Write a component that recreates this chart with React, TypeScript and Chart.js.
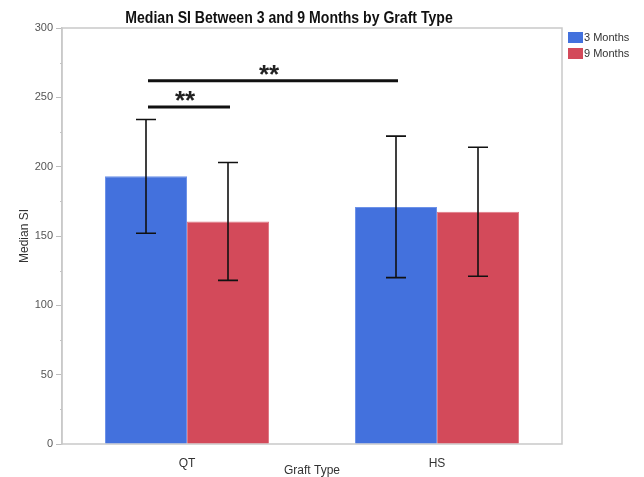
import React, { useEffect, useRef } from 'react';
import { Chart, registerables } from 'chart.js';

Chart.register(...registerables);

const categories = ['QT', 'HS'];
const seriesNames = ['3 Months', '9 Months'];
const seriesColors = ['#4371dd', '#d34a5a'];
const seriesEdge = ['#6d92e8', '#e07985'];
const months3 = [193, 171];
const months9 = [160.5, 167.5];
const months3Low = [152, 120];
const months3High = [234, 222];
const months9Low = [118, 121];
const months9High = [203, 214];
const yMin = 0;
const yMax = 300;
const yStep = 25;
const yLabelStep = 50;
// significance brackets: [datasetIndex, categoryIndex] endpoints
const sigFrom = [[0, 0], [0, 0]];
const sigTo = [[1, 0], [0, 1]];
const sigLevel = [243, 262];
const sigLabel = ['**', '**'];

const titleText = 'Median SI Between 3 and 9 Months by Graft Type';
const xTitle = 'Graft Type';
const yTitle = 'Median SI';

const NARROW = '"Liberation Sans Narrow", "Arial Narrow", "Liberation Sans", Arial, sans-serif';

export default function App() {
  const ref = useRef<HTMLCanvasElement | null>(null);

  useEffect(() => {
    if (!ref.current) return;
    const lows = [months3Low, months9Low];
    const highs = [months3High, months9High];

    const overlay = {
      id: 'overlay',
      beforeDatasetsDraw(chart: any) {
        const { ctx, chartArea: a } = chart;
        ctx.save();
        ctx.strokeStyle = '#c9c9c9';
        ctx.lineWidth = 1.5;
        ctx.strokeRect(a.left, a.top, a.right - a.left, a.bottom - a.top);
        // minor ticks
        const ys = chart.scales.y;
        ctx.strokeStyle = '#c4c4c4';
        ctx.lineWidth = 1;
        for (let v = yMin; v <= yMax; v += yStep) {
          if (v % yLabelStep !== 0) {
            const py = Math.round(ys.getPixelForValue(v)) + 0.5;
            ctx.beginPath();
            ctx.moveTo(a.left - 2, py);
            ctx.lineTo(a.left, py);
            ctx.stroke();
          }
        }
        ctx.restore();
      },
      afterDatasetsDraw(chart: any) {
        const { ctx, chartArea: a } = chart;
        const ys = chart.scales.y;
        ctx.save();
        // error bars
        ctx.strokeStyle = '#111';
        ctx.lineWidth = 1.6;
        for (let d = 0; d < 2; d++) {
          const meta = chart.getDatasetMeta(d);
          meta.data.forEach((el: any, i: number) => {
            const x = el.x;
            const y1 = ys.getPixelForValue(lows[d][i]);
            const y2 = ys.getPixelForValue(highs[d][i]);
            ctx.beginPath();
            ctx.moveTo(x, y1);
            ctx.lineTo(x, y2);
            ctx.moveTo(x - 10, y1);
            ctx.lineTo(x + 10, y1);
            ctx.moveTo(x - 10, y2);
            ctx.lineTo(x + 10, y2);
            ctx.stroke();
          });
        }
        // significance brackets
        for (let k = 0; k < sigLevel.length; k++) {
          const e1 = chart.getDatasetMeta(sigFrom[k][0]).data[sigFrom[k][1]];
          const e2 = chart.getDatasetMeta(sigTo[k][0]).data[sigTo[k][1]];
          const py = ys.getPixelForValue(sigLevel[k]);
          ctx.strokeStyle = '#111';
          ctx.lineWidth = 3;
          ctx.beginPath();
          ctx.moveTo(e1.x + 2, py);
          ctx.lineTo(e2.x + 2, py);
          ctx.stroke();
          ctx.font = 'bold 26px "Liberation Sans", Arial, sans-serif';
          ctx.fillStyle = '#222';
          const m = ctx.measureText(sigLabel[k]);
          const cx = (e1.x + e2.x) / 2 - 2;
          const cy = py - 11;
          ctx.textAlign = 'center';
          ctx.textBaseline = 'alphabetic';
          ctx.fillText(sigLabel[k], cx, cy + (m.actualBoundingBoxAscent - m.actualBoundingBoxDescent) / 2);
        }
        // title (condensed)
        ctx.fillStyle = '#111';
        ctx.font = 'bold 16px ' + NARROW;
        ctx.textAlign = 'center';
        ctx.textBaseline = 'alphabetic';
        ctx.save();
        ctx.translate(a.left + 227, 23);
        ctx.scale(0.88, 1);
        ctx.fillText(titleText, 0, 0);
        ctx.restore();
        // axis titles
        ctx.fillStyle = '#333';
        ctx.font = '12px ' + NARROW;
        ctx.textBaseline = 'middle';
        ctx.fillText(xTitle, (a.left + a.right) / 2, a.bottom + 27);
        ctx.save();
        ctx.translate(25, (a.top + a.bottom) / 2);
        ctx.rotate(-Math.PI / 2);
        ctx.fillText(yTitle, 0, 0);
        ctx.restore();
        // legend
        ctx.font = '11px ' + NARROW;
        ctx.textAlign = 'left';
        for (let s = 0; s < seriesNames.length; s++) {
          const ly = a.top + 4 + s * 16;
          ctx.fillStyle = seriesColors[s];
          ctx.fillRect(a.right + 6, ly, 15, 11);
          ctx.fillStyle = '#333';
          ctx.fillText(seriesNames[s], a.right + 22, ly + 6);
        }
        ctx.restore();
      },
    };

    const chart = new Chart(ref.current, {
      type: 'bar',
      data: {
        labels: categories,
        datasets: [
          {
            label: seriesNames[0],
            data: months3,
            backgroundColor: seriesColors[0],
            borderColor: seriesEdge[0],
            borderWidth: 1,
            categoryPercentage: 0.656,
            barPercentage: 1,
          },
          {
            label: seriesNames[1],
            data: months9,
            backgroundColor: seriesColors[1],
            borderColor: seriesEdge[1],
            borderWidth: 1,
            categoryPercentage: 0.656,
            barPercentage: 1,
          },
        ],
      },
      options: {
        animation: false,
        responsive: false,
        maintainAspectRatio: false,
        layout: { padding: { top: 28, right: 82, left: 0, bottom: 0 } },
        plugins: {
          legend: { display: false },
          title: { display: false },
          tooltip: { enabled: false },
        },
        scales: {
          x: {
            grid: { display: false, drawTicks: false },
            border: { display: false },
            ticks: { color: '#333', font: { family: NARROW, size: 12 }, padding: 12 },
            afterFit: (s: any) => { s.height = 33; },
          },
          y: {
            min: yMin,
            max: yMax,
            ticks: {
              stepSize: yStep,
              color: '#555',
              font: { family: NARROW, size: 11 },
              padding: 3,
              callback: (v: any) => (Number(v) % yLabelStep === 0 ? String(v) : ''),
            },
            grid: {
              drawOnChartArea: false,
              tickLength: 6,
              color: (c: any) => (c.tick && c.tick.value % yLabelStep === 0 ? '#bdbdbd' : 'rgba(0,0,0,0)'),
            },
            border: { color: '#c9c9c9', width: 1.5 },
            afterFit: (s: any) => { s.width = 62; },
          },
        },
      },
      plugins: [overlay],
    });
    return () => chart.destroy();
  }, []);

  return (
    <div style={{ position: 'fixed', left: 0, top: 0, width: 644, height: 477, background: '#fff' }}>
      <canvas ref={ref} width={644} height={477} style={{ width: 644, height: 477, display: 'block' }} />
    </div>
  );
}
